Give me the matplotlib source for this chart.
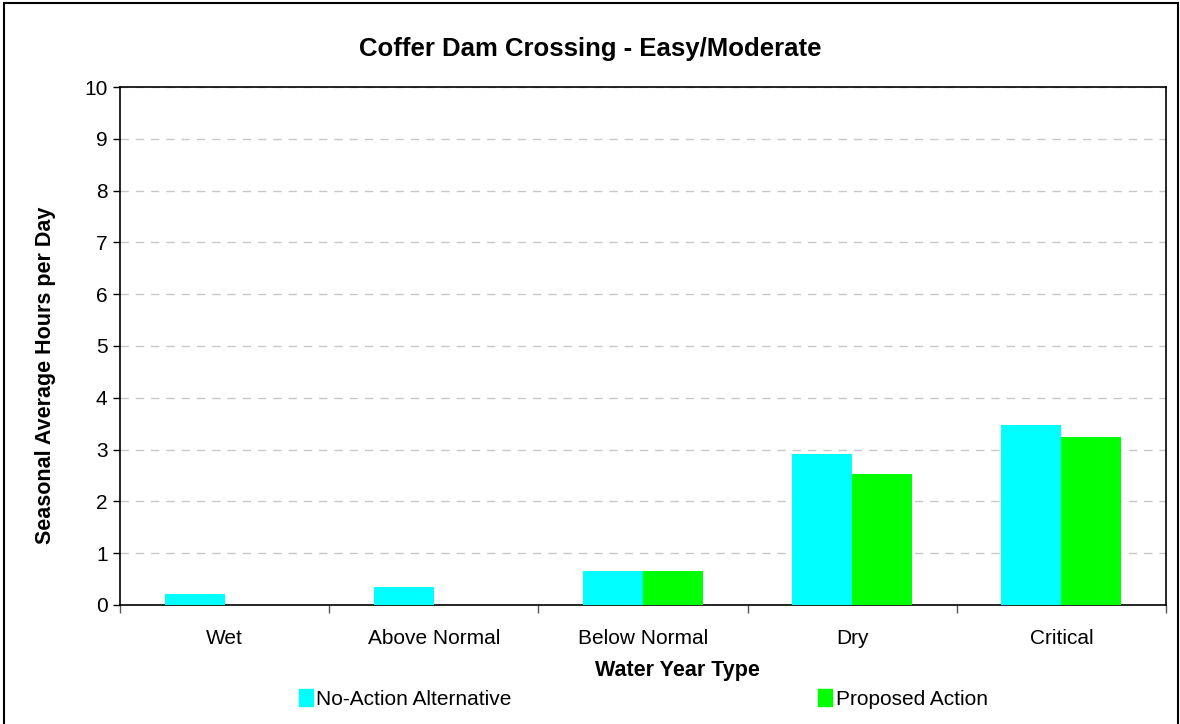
import numpy as np
import matplotlib
matplotlib.use("Agg")
import matplotlib.pyplot as plt
from matplotlib.patches import Rectangle, Patch

plt.rcParams['font.family'] = ['Liberation Sans', 'DejaVu Sans']

# データ
categories = ["Wet", "Above Normal", "Below Normal", "Dry", "Critical"]
no_action = [0.22, 0.35, 0.65, 2.91, 3.47]
proposed = [0.0, 0.0, 0.65, 2.52, 3.24]
series_names = ["No-Action Alternative", "Proposed Action"]
yticks = list(range(0, 11))

fig = plt.figure(figsize=(11.8, 7.24), dpi=100)
ax = fig.add_axes([0.1017, 0.1644, 0.8864, 0.7154])

x = np.arange(len(categories))
w = 0.2865
ax.bar(x - w/2, no_action, w, color="#00ffff", zorder=3)
ax.bar(x + w/2, proposed, w, color="#00ff00", zorder=3)

ax.set_xlim(-0.5, len(categories) - 0.5)
ax.set_ylim(0, 10)
ax.set_yticks(yticks)
ax.tick_params(axis='y', labelsize=15, length=5, width=1, pad=4)
# x目盛はカテゴリの境目に
ax.set_xticks(np.arange(-0.5, len(categories), 1.0))
ax.set_xticklabels([])
ax.set_xticks(x, minor=True)
ax.set_xticklabels(categories, minor=True, fontsize=15)
ax.tick_params(axis='x', which='minor', length=0, pad=17)
ax.tick_params(axis='x', which='major', length=6, width=1, color="#555555")

ax.yaxis.grid(True, linestyle=(0, (6, 5)), color="#c8c8c8", linewidth=1, zorder=0)
for s in ax.spines.values():
    s.set_color("black")
    s.set_linewidth(1.2)

# タイトルは図の中央
fig.text(0.5, 0.933, "Coffer Dam Crossing - Easy/Moderate", fontsize=18.5,
         fontweight="bold", ha="center", va="center")
ax.set_xlabel("Water Year Type", fontsize=15.5, fontweight="bold")
ax.xaxis.set_label_coords(0.533, -0.107)
ax.set_ylabel("Seasonal Average Hours per Day", fontsize=15.5, fontweight="bold")
ax.yaxis.set_label_coords(-0.061, 0.444)

handles = [Patch(color="#00ffff"), Patch(color="#00ff00")]
fig.legend(handles, series_names, loc="center", bbox_to_anchor=(0.545, 0.035),
           ncol=2, frameon=False, fontsize=15, handlelength=0.7, handleheight=0.9,
           handletextpad=0.15, columnspacing=14.7)

# 外枠
fig.patches.append(Rectangle((0.0034, -0.01), 0.9949, 1.006, transform=fig.transFigure,
                             fill=False, edgecolor="black", linewidth=1.5))

fig.savefig("out.png", dpi=100)
